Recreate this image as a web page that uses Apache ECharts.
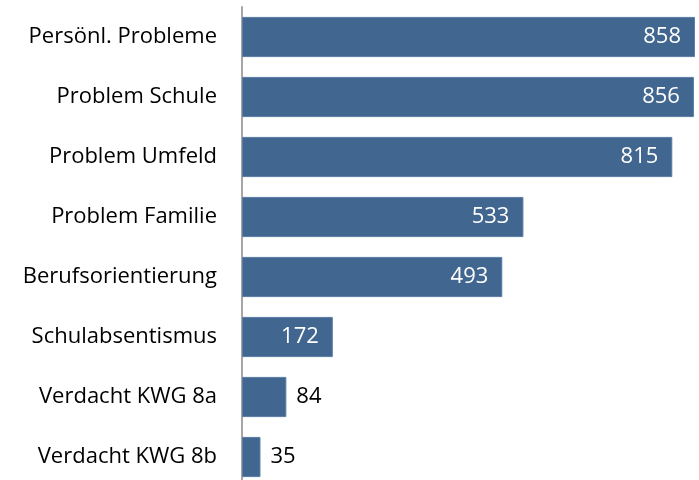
<!DOCTYPE html>
<html>
<head>
<meta charset="utf-8">
<script src="https://cdn.jsdelivr.net/npm/echarts@6/dist/echarts.min.js"></script>
<style>
  html, body { margin: 0; padding: 0; background: #fff; }
  #chart { width: 699px; height: 480px; }
</style>
</head>
<body>
<div id="chart"></div>
<script>
var categories = ['Persönl. Probleme', 'Problem Schule', 'Problem Umfeld', 'Problem Familie',
  'Berufsorientierung', 'Schulabsentismus', 'Verdacht KWG 8a', 'Verdacht KWG 8b']
var values = [858, 856, 815, 533, 493, 172, 84, 35]
var outsideLimit = 100 // kleine Balken: Beschriftung rechts daneben

var fontName = 'Open Sans'
var chart = echarts.init(document.getElementById('chart'))

var seriesData = values.map(function (v) {
  var inside = v > outsideLimit
  return {
    value: v,
    label: inside
      ? { position: 'insideRight', distance: 14, color: '#fff' }
      : { position: 'right', distance: 10, color: '#000' }
  }
})

var option = {
  animation: false,
  grid: { left: 242, top: 7, width: 453, height: 480, outerBoundsMode: 'none' },
  xAxis: {
    type: 'value',
    min: 0,
    max: 858,
    show: false
  },
  yAxis: {
    type: 'category',
    inverse: true,
    data: categories,
    axisLine: { show: true, lineStyle: { color: '#a6a6a6', width: 2 } },
    axisTick: { show: false },
    axisLabel: { margin: 25, fontFamily: fontName, fontSize: 22, color: '#000' }
  },
  series: [
    {
      type: 'bar',
      data: seriesData,
      barCategoryGap: '33%',
      itemStyle: { color: '#41668f', borderColor: '#5a7ea6', borderWidth: 1 },
      label: { show: true, fontFamily: fontName, fontSize: 22 }
    }
  ]
}
chart.setOption(option)
</script>
</body>
</html>
